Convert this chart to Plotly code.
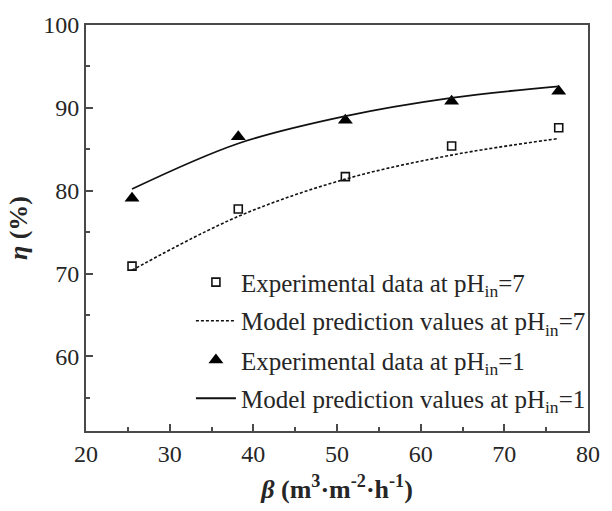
import plotly.graph_objects as go

beta = [25.5, 38.2, 51.0, 63.7, 76.5]
exp_ph7 = [70.9, 77.8, 81.7, 85.4, 87.6]
model_ph7 = [70.4, 76.9, 81.4, 84.3, 86.3]
exp_ph1 = [79.1, 86.5, 88.5, 90.8, 92.0]
model_ph1 = [80.2, 85.7, 89.0, 91.2, 92.6]

FONT = "Liberation Serif"
TXT = "#262626"
AX = "#4a4a4a"

fig = go.Figure()
fig.add_trace(go.Scatter(
    x=beta, y=exp_ph7, mode="markers", legend="legend",
    name="Experimental data at pH<sub>in</sub>=7",
    marker=dict(symbol="square-open", size=8, color="#111", line=dict(width=1.6, color="#111")),
))
fig.add_trace(go.Scatter(
    x=beta, y=model_ph7, mode="lines", line_shape="spline", legend="legend2",
    name="Model prediction values at pH<sub>in</sub>=7",
    line=dict(color="#111", width=1.6, dash="3px,2px"),
))
fig.add_trace(go.Scatter(
    x=beta, y=exp_ph1, mode="markers", legend="legend3",
    name="Experimental data at pH<sub>in</sub>=1",
    marker=dict(symbol="triangle-up", size=13, color="#000"),
))
fig.add_trace(go.Scatter(
    x=beta, y=model_ph1, mode="lines", line_shape="spline", legend="legend4",
    name="Model prediction values at pH<sub>in</sub>=1",
    line=dict(color="#111", width=1.8),
))

axis_common = dict(
    showgrid=False, zeroline=False, showline=True, linecolor=AX, linewidth=2,
    mirror=True, ticks="inside", ticklen=7, tickwidth=1.5, tickcolor=AX,
    tickfont=dict(family=FONT, size=24, color=TXT),
    minor=dict(ticks="inside", ticklen=4, tickwidth=1.5, tickcolor=AX),
)

fig.update_xaxes(range=[20, 80], dtick=10, minor_dtick=5,
                 title=dict(text="<b><i>β</i> (m<sup>3</sup>·m<sup>-2</sup>·h<sup>-1</sup>)</b>",
                            font=dict(family=FONT, size=26, color=TXT), standoff=14),
                 **axis_common)
fig.update_yaxes(range=[51, 100], tickvals=[60, 70, 80, 90, 100], minor_tickvals=[55, 65, 75, 85, 95],
                 title=dict(text="<b><i>η</i> (%)</b>",
                            font=dict(family=FONT, size=26, color=TXT), standoff=8),
                 **axis_common)

leg = dict(x=0.209, xanchor="left", yanchor="middle",
           bgcolor="rgba(0,0,0,0)", borderwidth=0,
           font=dict(family=FONT, size=25, color=TXT), itemwidth=40)

fig.update_layout(
    width=612, height=511,
    margin=dict(l=86, r=14, t=20, b=78),
    plot_bgcolor="white", paper_bgcolor="white",
    showlegend=True,
    font=dict(family=FONT, color=TXT),
    legend=dict(leg, y=0.366),
    legend2=dict(leg, y=0.271),
    legend3=dict(leg, y=0.174),
    legend4=dict(leg, y=0.080),
)

fig.write_html("out.html")
